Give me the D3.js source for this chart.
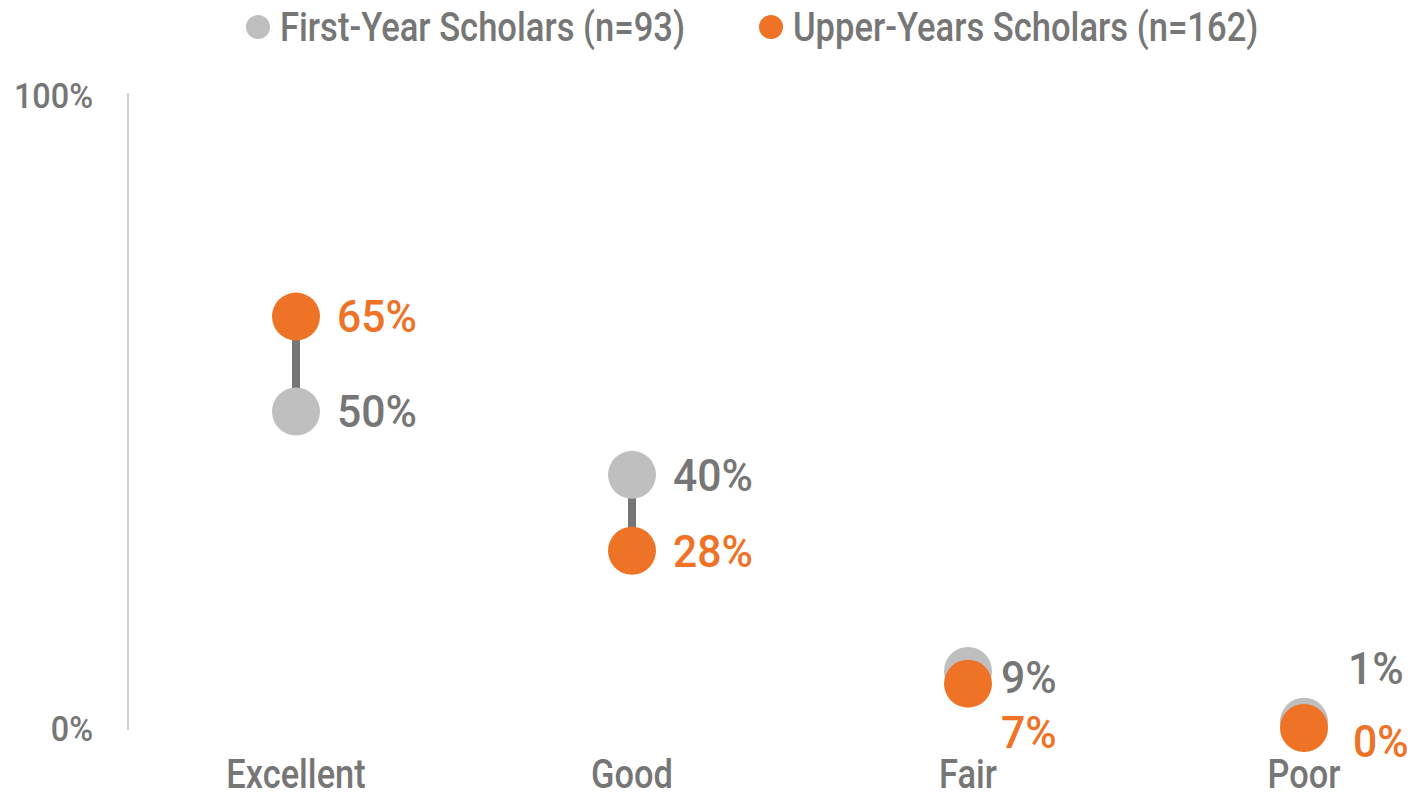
<!DOCTYPE html>
<html>
<head>
<meta charset="utf-8">
<script src="https://cdn.jsdelivr.net/npm/d3@7"></script>
<style>
  html, body { margin: 0; padding: 0; background: #fff; }
  svg { display: block; font-family: Roboto, "Liberation Sans", sans-serif; font-weight: 500; }
</style>
</head>
<body>
<svg id="chart"></svg>
<script>
const categories = ['Excellent', 'Good', 'Fair', 'Poor'];
const firstYear = [50, 40, 9, 1];
const upperYears = [65, 28, 7, 0];
const seriesNames = ['First-Year Scholars (n=93)', 'Upper-Years Scholars (n=162)'];
const yTicks = [0, 100];

// label nudges where the dots overlap (dx, dy from the dot centre)
const firstNudge = [[41, 0], [41, 0], [33, 6], [44, -54]];
const upperNudge = [[41, 0], [41, 0], [33, 48], [49, 13]];

const W = 1414, H = 797;
const GREY = '#bfbfbf', ORANGE = '#ee7326', TEXT = '#767676';
const NARROW = 0.84; // the original face is a condensed one

const svg = d3.select('#chart').attr('width', W).attr('height', H);

const x = d3.scaleBand().domain(categories).range([128, 1472]);
const y = d3.scaleLinear().domain([0, 100]).range([728, 95]);
const cx = c => x(c) + x.bandwidth() / 2;

// squeeze text horizontally around its anchor point
const place = (px, py, k = NARROW) => `translate(${px},${py}) scale(${k},1)`;

// y axis: a plain line and two tick labels
svg.append('line')
  .attr('x1', 128).attr('x2', 128)
  .attr('y1', y(100) - 2).attr('y2', y(0) + 2)
  .attr('stroke', '#bfbfbf').attr('stroke-width', 1.5);

svg.append('g').selectAll('text')
  .data(yTicks)
  .join('text')
  .attr('transform', d => place(93, y(d), 0.9))
  .attr('dy', '0.36em')
  .attr('text-anchor', 'end')
  .attr('fill', TEXT)
  .attr('font-size', 36)
  .text(d => d + '%');

// category labels
svg.append('g').selectAll('text')
  .data(categories)
  .join('text')
  .attr('transform', d => place(cx(d), 774, 0.86))
  .attr('dy', '0.36em')
  .attr('text-anchor', 'middle')
  .attr('fill', TEXT)
  .attr('font-size', 40)
  .text(d => d);

const rows = categories.map((c, i) => ({ c, a: firstYear[i], b: upperYears[i], i }));

// connectors
svg.append('g').selectAll('line')
  .data(rows)
  .join('line')
  .attr('x1', d => cx(d.c)).attr('x2', d => cx(d.c))
  .attr('y1', d => y(d.a)).attr('y2', d => y(d.b))
  .attr('stroke', '#767676').attr('stroke-width', 8);

// dots
svg.append('g').selectAll('circle')
  .data(rows)
  .join('circle')
  .attr('cx', d => cx(d.c)).attr('cy', d => y(d.a))
  .attr('r', 24).attr('fill', GREY);

svg.append('g').selectAll('circle')
  .data(rows)
  .join('circle')
  .attr('cx', d => cx(d.c)).attr('cy', d => y(d.b))
  .attr('r', 24).attr('fill', ORANGE);

// value labels
svg.append('g').selectAll('text')
  .data(rows)
  .join('text')
  .attr('transform', d => place(cx(d.c) + firstNudge[d.i][0], y(d.a) + firstNudge[d.i][1], 0.97))
  .attr('dy', '0.36em')
  .attr('fill', TEXT)
  .attr('font-size', 44)
  .text(d => d.a + '%');

svg.append('g').selectAll('text')
  .data(rows)
  .join('text')
  .attr('transform', d => place(cx(d.c) + upperNudge[d.i][0], y(d.b) + upperNudge[d.i][1], 0.97))
  .attr('dy', '0.36em')
  .attr('fill', ORANGE)
  .attr('font-size', 44)
  .text(d => d.b + '%');

// legend
const legend = svg.append('g').selectAll('g')
  .data(seriesNames)
  .join('g')
  .attr('transform', (d, i) => `translate(${[258, 771][i]},27)`);

legend.append('circle')
  .attr('r', 12)
  .attr('fill', (d, i) => i ? ORANGE : GREY);

legend.append('text')
  .attr('transform', place(22, 0, 0.865))
  .attr('dy', '0.36em')
  .attr('fill', TEXT)
  .attr('font-size', 40)
  .text(d => d);
</script>
</body>
</html>
